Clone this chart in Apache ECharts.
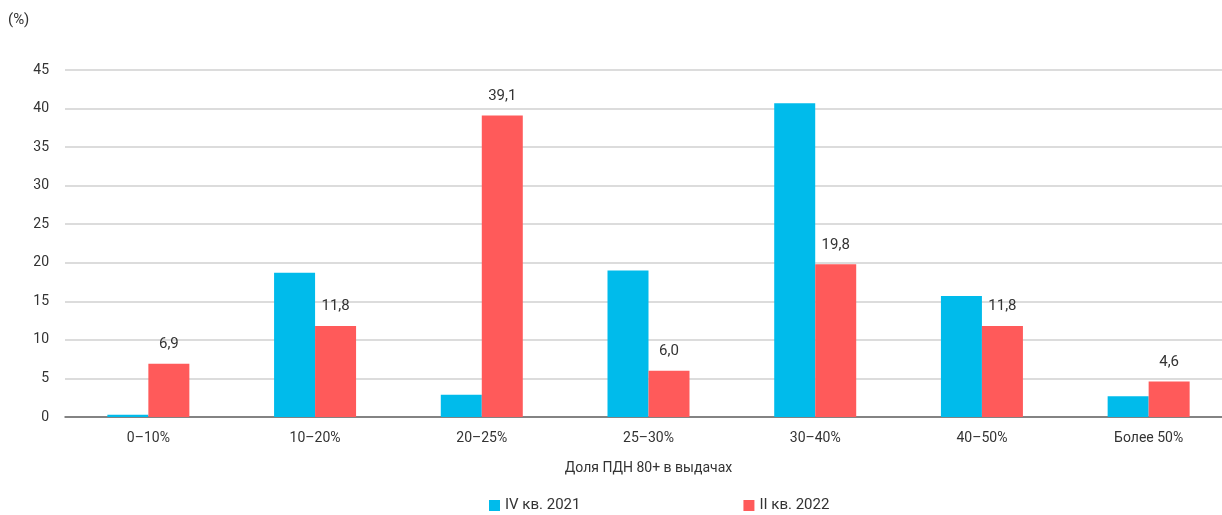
<!DOCTYPE html>
<html>
<head>
<meta charset="utf-8">
<script src="https://cdn.jsdelivr.net/npm/echarts@6/dist/echarts.min.js"></script>
<style>
  html, body { margin: 0; padding: 0; background: #fff; }
  #chart { width: 1222px; height: 515px; }
</style>
</head>
<body>
<div id="chart"></div>
<script>
var categories = ['0–10%', '10–20%', '20–25%', '25–30%', '30–40%', '40–50%', 'Более 50%'];
var seriesNames = ['IV кв. 2021', 'II кв. 2022'];
var q4_2021 = [0.3, 18.7, 2.9, 19.0, 40.7, 15.7, 2.7];
var q2_2022 = [6.9, 11.8, 39.1, 6.0, 19.8, 11.8, 4.6];
var yTicks = [0, 5, 10, 15, 20, 25, 30, 35, 40, 45];

var font = 'Roboto, "Liberation Sans", sans-serif';
var chart = echarts.init(document.getElementById('chart'));

chart.setOption({
  animation: false,
  textStyle: { fontFamily: font },
  graphic: [{
    type: 'text', left: 8, top: 13,
    style: { text: '(%)', font: '15px ' + font, fill: '#333' }
  }],
  legend: {
    bottom: 2, left: 489, padding: 0,
    itemWidth: 11, itemHeight: 11, itemGap: 163,
    icon: 'rect',
    textStyle: { fontSize: 15, color: '#333' },
    data: seriesNames
  },
  grid: { left: 65, width: 1167, top: 70, bottom: 98, outerBoundsMode: 'none' },
  xAxis: {
    type: 'category',
    data: categories,
    name: 'Доля ПДН 80+ в выдачах',
    nameLocation: 'middle',
    nameGap: 44,
    nameTextStyle: { fontSize: 14, color: '#333' },
    axisLine: { lineStyle: { color: '#666', width: 1.5 } },
    axisTick: { length: 6, lineStyle: { color: '#666' } },
    axisLabel: { fontSize: 14, color: '#333', margin: 14 }
  },
  yAxis: {
    type: 'value',
    min: yTicks[0], max: yTicks[yTicks.length - 1], interval: 5,
    axisLine: { show: false },
    axisTick: { show: false },
    axisLabel: { fontSize: 14, color: '#333', margin: 16 },
    splitLine: { lineStyle: { color: '#d0d0d0', width: 1.5 } }
  },
  series: [{
    name: seriesNames[0],
    type: 'bar',
    data: q4_2021,
    barWidth: 41,
    barGap: '0%',
    itemStyle: { color: '#00BBEB' }
  }, {
    name: seriesNames[1],
    type: 'bar',
    data: q2_2022,
    barWidth: 41,
    itemStyle: { color: '#FF5A5A' },
    label: {
      show: true, position: 'top', distance: 12,
      fontSize: 15, color: '#333',
      formatter: function (p) { return p.value.toFixed(1).replace('.', ','); }
    }
  }]
});
</script>
</body>
</html>
